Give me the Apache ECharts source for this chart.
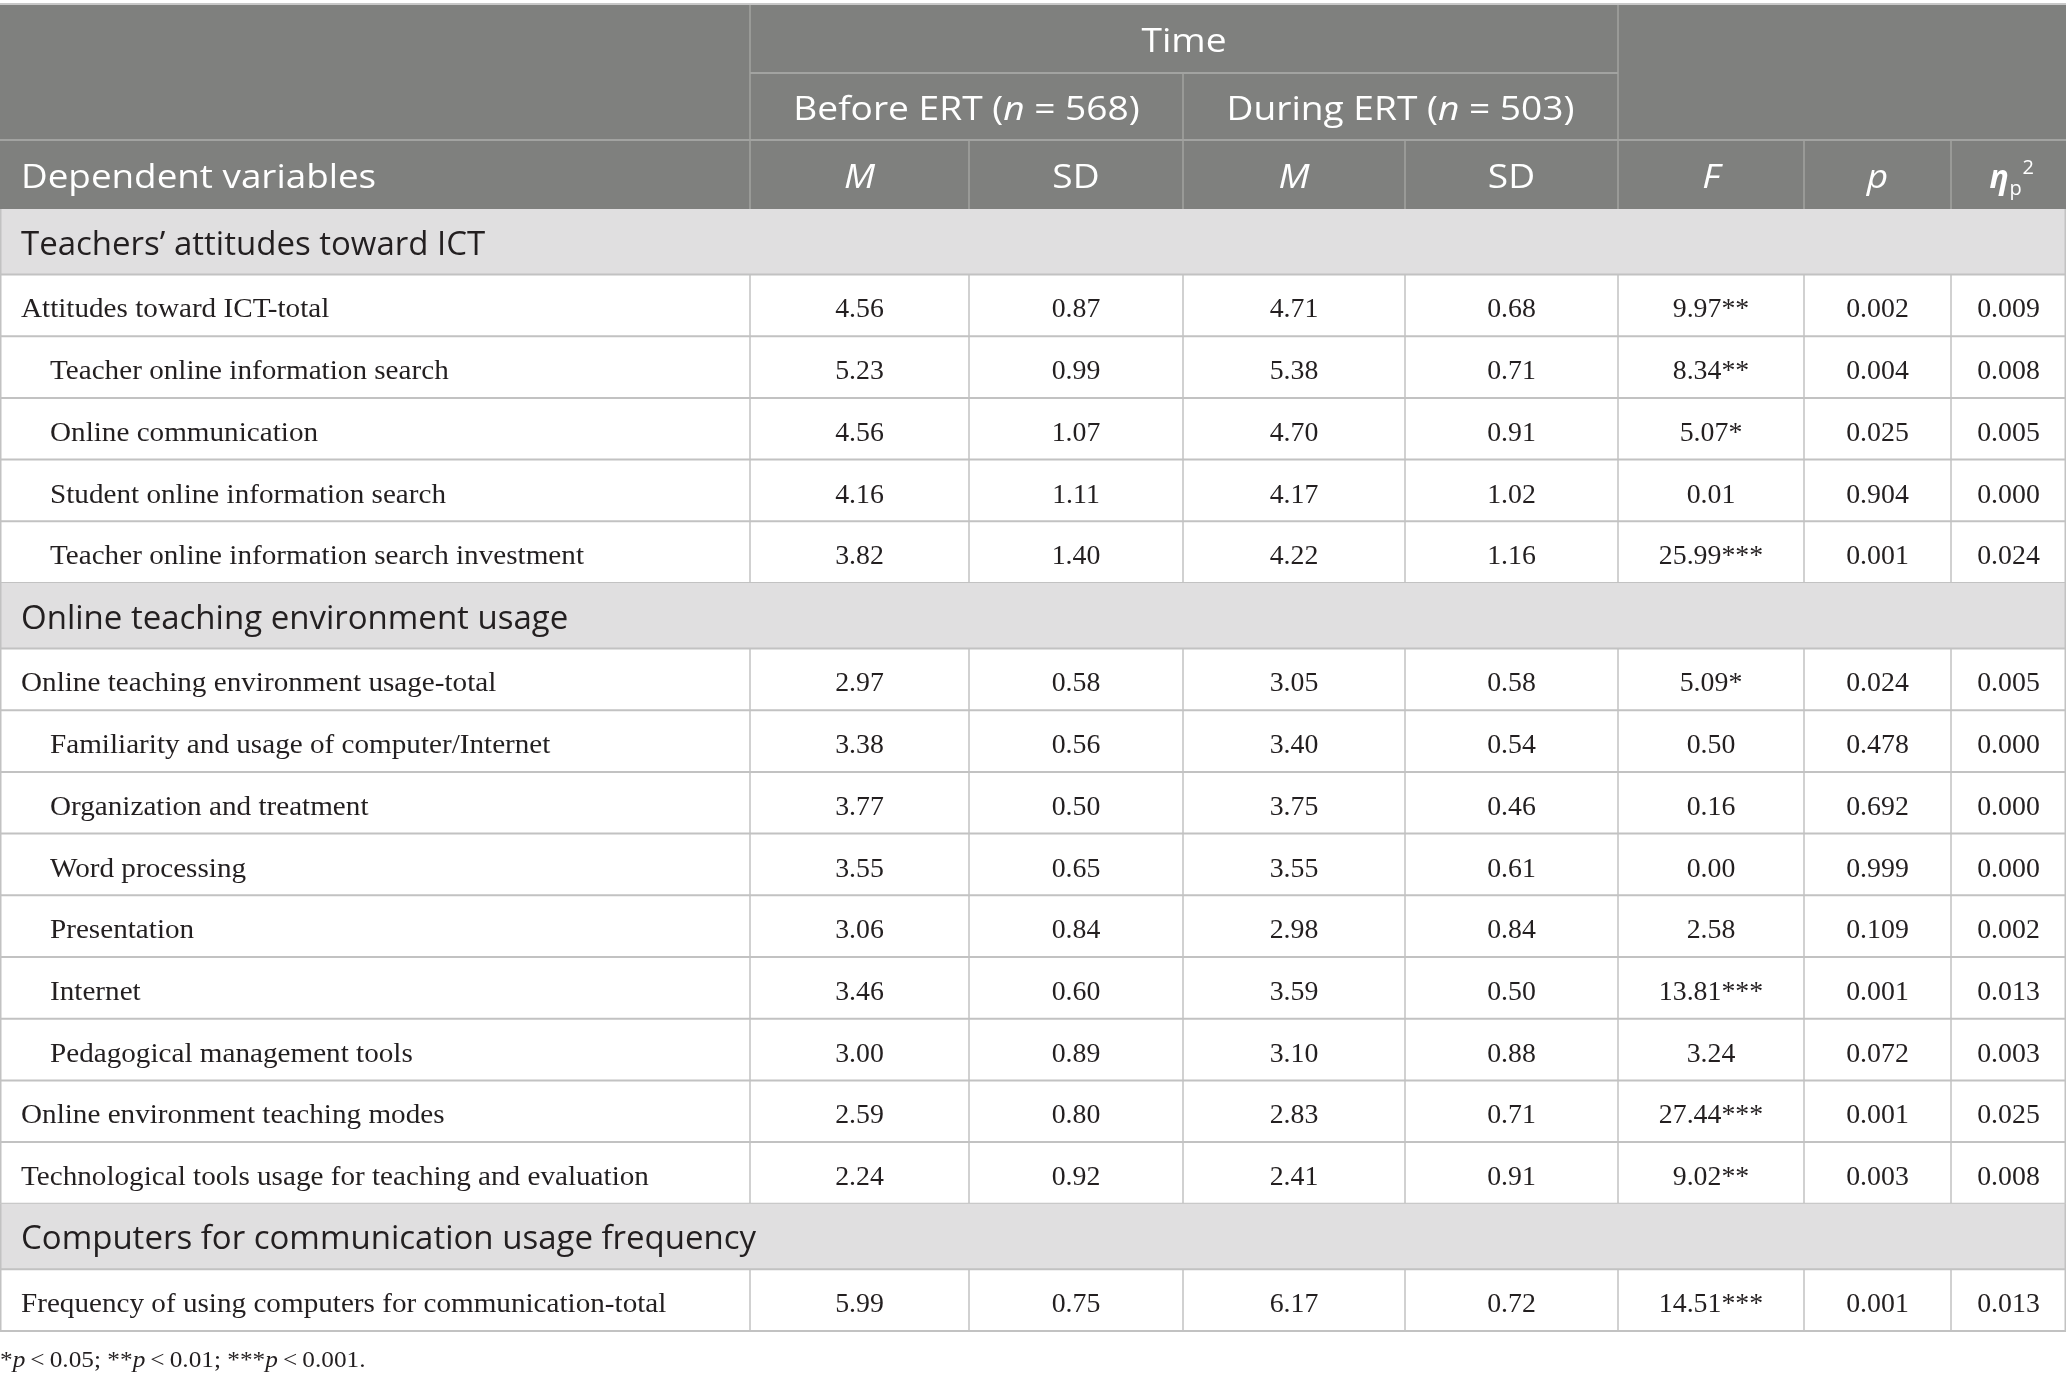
<!DOCTYPE html>
<html>
<head>
<meta charset="utf-8">
<script src="https://cdn.jsdelivr.net/npm/echarts@6/dist/echarts.min.js"></script>
<style>
html, body { margin: 0; padding: 0; background: #fff; }
#main { width: 2067px; height: 1386px; }
</style>
</head>
<body>
<div id="main"></div>
<script>
// table content
var sectionTitles = ['Teachers\u2019 attitudes toward ICT', 'Online teaching environment usage', 'Computers for communication usage frequency'];
var rowLabels = [
    'Attitudes toward ICT-total',
    'Teacher online information search',
    'Online communication',
    'Student online information search',
    'Teacher online information search investment',
    'Online teaching environment usage-total',
    'Familiarity and usage of computer/Internet',
    'Organization and treatment',
    'Word processing',
    'Presentation',
    'Internet',
    'Pedagogical management tools',
    'Online environment teaching modes',
    'Technological tools usage for teaching and evaluation',
    'Frequency of using computers for communication-total'
];
var rowSection = [0, 0, 0, 0, 0, 1, 1, 1, 1, 1, 1, 1, 1, 1, 2];
var rowIndent  = [0, 1, 1, 1, 1, 0, 1, 1, 1, 1, 1, 1, 0, 0, 0];
var meanBefore = [4.56, 5.23, 4.56, 4.16, 3.82, 2.97, 3.38, 3.77, 3.55, 3.06, 3.46, 3.00, 2.59, 2.24, 5.99];
var sdBefore   = [0.87, 0.99, 1.07, 1.11, 1.40, 0.58, 0.56, 0.50, 0.65, 0.84, 0.60, 0.89, 0.80, 0.92, 0.75];
var meanDuring = [4.71, 5.38, 4.70, 4.17, 4.22, 3.05, 3.40, 3.75, 3.55, 2.98, 3.59, 3.10, 2.83, 2.41, 6.17];
var sdDuring   = [0.68, 0.71, 0.91, 1.02, 1.16, 0.58, 0.54, 0.46, 0.61, 0.84, 0.50, 0.88, 0.71, 0.91, 0.72];
var fValues    = [9.97, 8.34, 5.07, 0.01, 25.99, 5.09, 0.50, 0.16, 0.00, 2.58, 13.81, 3.24, 27.44, 9.02, 14.51];
var fStars     = ['**', '**', '*', '', '***', '*', '', '', '', '', '***', '', '***', '**', '***'];
var pValues    = [0.002, 0.004, 0.025, 0.904, 0.001, 0.024, 0.478, 0.692, 0.999, 0.109, 0.001, 0.072, 0.001, 0.003, 0.001];
var etaValues  = [0.009, 0.008, 0.005, 0.000, 0.024, 0.005, 0.000, 0.000, 0.000, 0.002, 0.013, 0.003, 0.025, 0.008, 0.013];
var groupHeader = 'Time';
var periodLabels = ['Before ERT', 'During ERT'];
var periodN = [568, 503];
var columnHeaders = ['Dependent variables', 'M', 'SD', 'M', 'SD', 'F', 'p'];
var footnoteStars = ['*', '**', '***'];
var footnoteLevels = ['0.05', '0.01', '0.001'];

(function () {
    'use strict';
    // layout (px)
    var colEdges = [0, 750, 969, 1183, 1405, 1618, 1804, 1951, 2066];
    var headEdges = [4, 73, 140, 209];
    var sectionH = 65.5, dataH = 61.7;
    var headBg = '#7f807e', headLine = '#a2a3a1', sectionBg = '#e0dfe0', bodyLine = '#c2c2c2';
    var sans = '"Open Sans"', serif = '"Liberation Serif"';
    var headSize = 32, headStretch = 1.16, sectionSize = 33, bodySize = 27, bodyStretch = 1.08;
    var textColor = '#231f20';

    // build body rows
    var bodyRows = [];
    var y = headEdges[3], last = -1;
    for (var i = 0; i < rowLabels.length; i++) {
        if (rowSection[i] !== last) {
            last = rowSection[i];
            bodyRows.push({kind: 'section', title: sectionTitles[last], y0: y, y1: y + sectionH});
            y += sectionH;
        }
        bodyRows.push({
            kind: 'data', label: rowLabels[i], indent: rowIndent[i], y0: y, y1: y + dataH,
            cells: [meanBefore[i].toFixed(2), sdBefore[i].toFixed(2), meanDuring[i].toFixed(2),
                    sdDuring[i].toFixed(2), fValues[i].toFixed(2) + fStars[i],
                    pValues[i].toFixed(3), etaValues[i].toFixed(3)]
        });
        y += dataH;
    }
    var tableBottom = y;

    function hLine(api, xa, xb, yy, color, w) {
        var a = api.coord([xa, yy]), b = api.coord([xb, yy]);
        return {type: 'line', shape: {x1: a[0], y1: a[1], x2: b[0], y2: b[1]}, style: {stroke: color, lineWidth: w}, silent: true};
    }
    function vLine(api, xx, ya, yb, color, w) {
        var a = api.coord([xx, ya]), b = api.coord([xx, yb]);
        return {type: 'line', shape: {x1: a[0], y1: a[1], x2: b[0], y2: b[1]}, style: {stroke: color, lineWidth: w}, silent: true};
    }
    function box(api, xa, ya, xb, yb, fill) {
        var a = api.coord([xa, ya]), b = api.coord([xb, yb]);
        return {type: 'rect', shape: {x: a[0], y: a[1], width: b[0] - a[0], height: b[1] - a[1]}, style: {fill: fill}, silent: true};
    }
    // text anchored at (xx, yy); stretch widens it around the anchor
    function label(api, xx, yy, txt, opt) {
        var p = api.coord([xx, yy]);
        var st = {
            x: 0, y: 0, text: txt,
            align: opt.align || 'center', verticalAlign: 'middle',
            fontFamily: opt.family, fontSize: opt.size,
            fontStyle: opt.italic ? 'italic' : 'normal',
            fontWeight: opt.bold ? 'bold' : 'normal',
            fill: opt.color
        };
        if (opt.rich) { st.rich = opt.rich; }
        return {type: 'text', x: p[0], y: p[1], scaleX: opt.stretch || 1, style: st, silent: true};
    }

    function renderHeader(params, api) {
        var e = colEdges, h = headEdges, kids = [];
        var W = e[e.length - 1];
        kids.push(box(api, 0, h[0], W, h[3], headBg));
        // internal header rules
        kids.push(hLine(api, e[1], e[5], h[1], headLine, 2));
        kids.push(hLine(api, 0, W, h[2], headLine, 2));
        kids.push(vLine(api, e[1], h[0], h[3], headLine, 1.5));
        kids.push(vLine(api, e[5], h[0], h[3], headLine, 1.5));
        kids.push(vLine(api, e[3], h[1], h[3], headLine, 1.5));
        for (var c = 2; c < e.length - 1; c++) {
            if (c !== 3 && c !== 5) kids.push(vLine(api, e[c], h[2], h[3], headLine, 1.5));
        }
        kids.push(hLine(api, 0, W, h[0], '#c8c8c8', 2));
        var white = '#ffffff';
        var hs = {family: sans, size: headSize, color: white, stretch: headStretch};
        kids.push(label(api, (e[1] + e[5]) / 2, (h[0] + h[1]) / 2 + 4.5, groupHeader, hs));
        for (var k = 0; k < 2; k++) {
            var cx = (e[1 + 2 * k] + e[3 + 2 * k]) / 2;
            kids.push(label(api, cx, (h[1] + h[2]) / 2 + 4.5,
                '{a|' + periodLabels[k] + ' (}{i|n}{a| = ' + periodN[k] + ')}',
                {family: sans, size: headSize, color: white, stretch: headStretch, rich: {
                    a: {fontFamily: sans, fontSize: headSize, fill: white},
                    i: {fontFamily: sans, fontSize: headSize, fill: white, fontStyle: 'italic'}
                }}));
        }
        var ry = (h[2] + h[3]) / 2 + 4.5;
        kids.push(label(api, 21, ry, columnHeaders[0], {family: sans, size: headSize, color: white, align: 'left', stretch: 1.15}));
        for (var j = 1; j < columnHeaders.length; j++) {
            var t = columnHeaders[j];
            kids.push(label(api, (e[j] + e[j + 1]) / 2, ry, t,
                {family: sans, size: headSize, color: white, italic: t !== 'SD', stretch: headStretch}));
        }
        var ec = (e[7] + e[8]) / 2;
        kids.push(label(api, ec - 19, ry, '\u03b7', {family: sans, size: headSize, color: white, italic: true, bold: true, align: 'left'}));
        kids.push(label(api, ec + 1, ry + 10, 'p', {family: sans, size: 20, color: white, align: 'left'}));
        kids.push(label(api, ec + 14, ry - 11, '2', {family: sans, size: 20, color: white, align: 'left'}));
        return {type: 'group', children: kids};
    }

    function renderBody(params, api) {
        var r = bodyRows[api.value(0)];
        var e = colEdges, W = e[e.length - 1], kids = [];
        var my = (r.y0 + r.y1) / 2;
        if (r.kind === 'section') {
            kids.push(box(api, 0, r.y0, W, r.y1, sectionBg));
            kids.push(label(api, 21, my + 3.5, r.title, {family: sans, size: sectionSize, color: textColor, align: 'left'}));
        } else {
            kids.push(label(api, r.indent ? 50 : 21, my + 5, r.label,
                {family: serif, size: bodySize, color: textColor, align: 'left', stretch: bodyStretch}));
            for (var c = 0; c < r.cells.length; c++) {
                kids.push(label(api, (e[c + 1] + e[c + 2]) / 2, my + 5, r.cells[c],
                    {family: serif, size: bodySize, color: textColor, stretch: 1.03}));
            }
            for (var v = 1; v < e.length - 1; v++) kids.push(vLine(api, e[v], r.y0, r.y1, bodyLine, 1.5));
        }
        kids.push(vLine(api, 0.75, r.y0, r.y1, bodyLine, 1.5));
        kids.push(vLine(api, W - 0.75, r.y0, r.y1, bodyLine, 1.5));
        kids.push(hLine(api, 0, W, r.y1, bodyLine, 2));
        return {type: 'group', children: kids};
    }

    var bodyIdx = [];
    for (var b = 0; b < bodyRows.length; b++) bodyIdx.push([b]);

    var chart = echarts.init(document.getElementById('main'));
    chart.setOption({
        animation: false,
        backgroundColor: '#ffffff',
        grid: {left: 0, top: 0, width: 2067, height: 1386},
        xAxis: {type: 'value', min: 0, max: 2067, show: false},
        yAxis: {type: 'value', min: 0, max: 1386, inverse: true, show: false},
        graphic: [{
            type: 'text', left: 0, top: tableBottom + 18, scaleX: 1.1, silent: true,
            style: {
                text: footnoteStars.map(function (s, i) {
                    return '{s|' + s + '}{i|p}{a|\u2009<\u2009' + footnoteLevels[i] + (i < footnoteStars.length - 1 ? '; ' : '.') + '}';
                }).join(''),
                rich: {
                    s: {fontFamily: serif, fontSize: 23, fill: textColor},
                    i: {fontFamily: serif, fontSize: 23, fill: textColor, fontStyle: 'italic'},
                    a: {fontFamily: serif, fontSize: 23, fill: textColor}
                }
            }
        }],
        series: [{
            type: 'custom', renderItem: renderHeader, data: [[0]], silent: true, clip: false
        }, {
            type: 'custom', renderItem: renderBody, data: bodyIdx, silent: true, clip: false
        }]
    });
})();
</script>
</body>
</html>
